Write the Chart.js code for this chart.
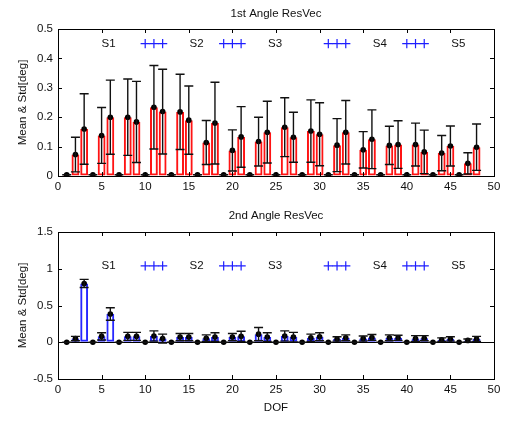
<!DOCTYPE html>
<html>
<head>
<meta charset="utf-8">
<script src="https://cdn.jsdelivr.net/npm/chart.js@4.4.1/dist/chart.umd.min.js"></script>
<style>
    html, body { margin: 0; padding: 0; background: #fff; }
    #wrap { position: relative; width: 508px; height: 421px; }
    canvas { position: absolute; left: 0; }
    #c1 { top: 0; }
    #c2 { top: 200px; }
</style>
</head>
<body>
<div id="wrap">
    <canvas id="c1" width="508" height="200" style="width:508px;height:200px"></canvas>
    <canvas id="c2" width="508" height="221" style="width:508px;height:221px"></canvas>
</div>
<script>
const dof = [1, 2, 3, 4, 5, 6, 7, 8, 9, 10, 11, 12, 13, 14, 15, 16, 17, 18, 19, 20, 21, 22, 23, 24,
    25, 26, 27, 28, 29, 30, 31, 32, 33, 34, 35, 36, 37, 38, 39, 40, 41, 42, 43, 44, 45, 46, 47, 48];

/* 1st angle */
const mean1 = [0.004, 0.073, 0.16, 0.004, 0.138, 0.2, 0.004, 0.2, 0.184, 0.004, 0.234, 0.219,
    0.004, 0.218, 0.19, 0.004, 0.114, 0.18, 0.004, 0.087, 0.133, 0.004, 0.117, 0.149,
    0.004, 0.166, 0.132, 0.004, 0.153, 0.142, 0.004, 0.105, 0.149, 0.004, 0.089, 0.125,
    0.004, 0.104, 0.107, 0.004, 0.107, 0.082, 0.004, 0.078, 0.102, 0.004, 0.043, 0.098];
const std1 = [0, 0.059, 0.12, 0, 0.095, 0.126, 0, 0.13, 0.138, 0, 0.142, 0.144,
    0, 0.128, 0.116, 0, 0.075, 0.139, 0, 0.07, 0.103, 0, 0.083, 0.105,
    0, 0.1, 0.085, 0, 0.106, 0.107, 0, 0.09, 0.108, 0, 0.062, 0.1,
    0, 0.065, 0.081, 0, 0.073, 0.074, 0, 0.06, 0.068, 0, 0.036, 0.079];

/* 2nd angle */
const mean2 = [0, 0.05, 0.8, 0, 0.08, 0.385, 0, 0.08, 0.08, 0, 0.085, 0.05,
    0, 0.07, 0.07, 0, 0.055, 0.07, 0, 0.07, 0.08, 0, 0.11, 0.07,
    0, 0.085, 0.07, 0, 0.06, 0.075, 0, 0.045, 0.06, 0, 0.05, 0.065,
    0, 0.06, 0.06, 0, 0.05, 0.055, 0, 0.035, 0.045, 0, 0.025, 0.045];
const std2 = [0, 0.03, 0.055, 0, 0.05, 0.085, 0, 0.055, 0.055, 0, 0.07, 0.06,
    0, 0.05, 0.05, 0, 0.045, 0.06, 0, 0.05, 0.07, 0, 0.09, 0.06,
    0, 0.07, 0.065, 0, 0.05, 0.055, 0, 0.03, 0.04, 0, 0.035, 0.04,
    0, 0.04, 0.035, 0, 0.04, 0.035, 0, 0.025, 0.03, 0, 0.02, 0.035];

/* segment markers */
const segNames = ["S1", "S2", "S3", "S4", "S5"];
const segX = [5.8, 15.9, 24.9, 36.9, 45.9];
const plusX = [10, 11, 12, 19, 20, 21, 31, 32, 33, 40, 41, 42];
const segY1 = 0.45;
const segY2 = 1.04;

const FONT = "'Liberation Sans', Arial, sans-serif";

const framePlugin = {
    id: "frame",
    afterDatasetsDraw(chart, args, opts) {
        const ctx = chart.ctx;
        const xs = chart.scales.x;
        const ys = chart.scales.y;
        ctx.save();
        ctx.strokeStyle = "#111";
        ctx.lineWidth = 1.4;
        for (let i = 0; i < dof.length; i++) {
            const x = xs.getPixelForValue(dof[i]);
            const lo = ys.getPixelForValue(opts.mean[i] - opts.std[i]);
            const hi = ys.getPixelForValue(opts.mean[i] + opts.std[i]);
            ctx.beginPath();
            ctx.moveTo(x, lo);
            ctx.lineTo(x, hi);
            ctx.moveTo(x - 4.5, lo);
            ctx.lineTo(x + 4.5, lo);
            ctx.moveTo(x - 4.5, hi);
            ctx.lineTo(x + 4.5, hi);
            ctx.stroke();
        }
        ctx.restore();
    },
    afterDraw(chart, args, opts) {
        const ctx = chart.ctx;
        const a = chart.chartArea;
        const xs = chart.scales.x;
        const ys = chart.scales.y;
        ctx.save();
        /* box */
        ctx.strokeStyle = "#000";
        ctx.lineWidth = 1;
        ctx.strokeRect(Math.round(a.left) + 0.5, Math.round(a.top) + 0.5,
            Math.round(a.right - a.left), Math.round(a.bottom - a.top));
        /* inward ticks */
        ctx.beginPath();
        xs.ticks.forEach(t => {
            const x = Math.round(xs.getPixelForValue(t.value)) + 0.5;
            ctx.moveTo(x, a.bottom);
            ctx.lineTo(x, a.bottom - 4);
            ctx.moveTo(x, a.top);
            ctx.lineTo(x, a.top + 4);
        });
        ys.ticks.forEach(t => {
            const y = Math.round(ys.getPixelForValue(t.value)) + 0.5;
            ctx.moveTo(a.left, y);
            ctx.lineTo(a.left + 4, y);
            ctx.moveTo(a.right, y);
            ctx.lineTo(a.right - 4, y);
        });
        ctx.stroke();
        /* title */
        ctx.fillStyle = "#111";
        ctx.font = "11.5px " + FONT;
        ctx.textAlign = "center";
        ctx.textBaseline = "middle";
        ctx.fillText(opts.title, (a.left + a.right) / 2, opts.titleY);
        /* segment labels */
        for (let i = 0; i < segNames.length; i++) {
            ctx.fillText(segNames[i], xs.getPixelForValue(segX[i]), ys.getPixelForValue(opts.segY));
        }
        ctx.restore();
    }
};

function makeChart(id, o) {
    const bars = dof.map((d, i) => ({ x: d, y: o.mean[i] }));
    const dots = dof.map((d, i) => ({ x: d, y: o.mean[i] }));
    const plus = plusX.map(d => ({ x: d, y: o.segY }));
    return new Chart(document.getElementById(id), {
        type: "bar",
        data: {
            datasets: [
                {
                    type: "line",
                    data: plus,
                    showLine: false,
                    pointStyle: "cross",
                    pointRadius: 4.6,
                    borderColor: "rgb(30,30,255)",
                    pointBorderWidth: 1.2,
                    order: 0,
                },
                {
                    type: "line",
                    data: dots,
                    showLine: false,
                    pointRadius: 2.8,
                    pointBackgroundColor: "#000",
                    pointBorderColor: "#000",
                    pointBorderWidth: 0,
                    order: 1,
                },
                {
                    type: "bar",
                    data: bars,
                    backgroundColor: "rgba(255,255,255,0)",
                    borderColor: o.color,
                    borderWidth: 2,
                    borderSkipped: false,
                    barPercentage: 1,
                    categoryPercentage: 0.9,
                    order: 2,
                },
            ],
        },
        options: {
            responsive: false,
            animation: false,
            layout: { padding: { left: 0, right: 14, top: o.top, bottom: 0 } },
            plugins: {
                legend: { display: false },
                tooltip: { enabled: false },
                frame: { title: o.title, titleY: o.titleY, mean: o.mean, std: o.std, segY: o.segY },
            },
            scales: {
                x: {
                    type: "linear",
                    min: 0,
                    max: 50,
                    offset: false,
                    ticks: { stepSize: 5, color: "#111", font: { family: FONT, size: 11.5 }, padding: 4, maxRotation: 0 },
                    grid: { drawOnChartArea: false, drawTicks: false },
                    border: { display: false },
                    title: {
                        display: o.xTitle !== "",
                        text: o.xTitle,
                        color: "#111",
                        font: { family: FONT, size: 11.5 },
                        padding: { top: 0, bottom: 6 },
                    },
                    afterFit: s => { s.height = o.xh; },
                },
                y: {
                    min: o.ymin,
                    max: o.ymax,
                    ticks: {
                        stepSize: o.step,
                        color: "#111",
                        font: { family: FONT, size: 11.5 },
                        padding: 5,
                        callback: v => String(parseFloat(Number(v).toFixed(2))),
                    },
                    grid: {
                        drawTicks: false,
                        color: c => (o.zeroLine && c.tick && c.tick.value === 0 ? "#000" : "rgba(0,0,0,0)"),
                    },
                    border: { display: false },
                    title: {
                        display: true,
                        text: "Mean & Std[deg]",
                        color: "#111",
                        font: { family: FONT, size: 11.5 },
                        padding: { top: 16, bottom: 0 },
                    },
                    afterFit: s => { s.width = 58; },
                },
            },
        },
        plugins: [framePlugin],
    });
}

makeChart("c1", {
    title: "1st Angle ResVec", titleY: 13.5, mean: mean1, std: std1, segY: segY1,
    color: "rgb(255,20,20)", top: 29, xh: 24, ymin: 0, ymax: 0.5, step: 0.1,
    xTitle: "", zeroLine: false,
});
makeChart("c2", {
    title: "2nd Angle ResVec", titleY: 15.5, mean: mean2, std: std2, segY: segY2,
    color: "rgb(40,40,255)", top: 32, xh: 42, ymin: -0.5, ymax: 1.5, step: 0.5,
    xTitle: "DOF", zeroLine: true,
});
</script>
</body>
</html>
